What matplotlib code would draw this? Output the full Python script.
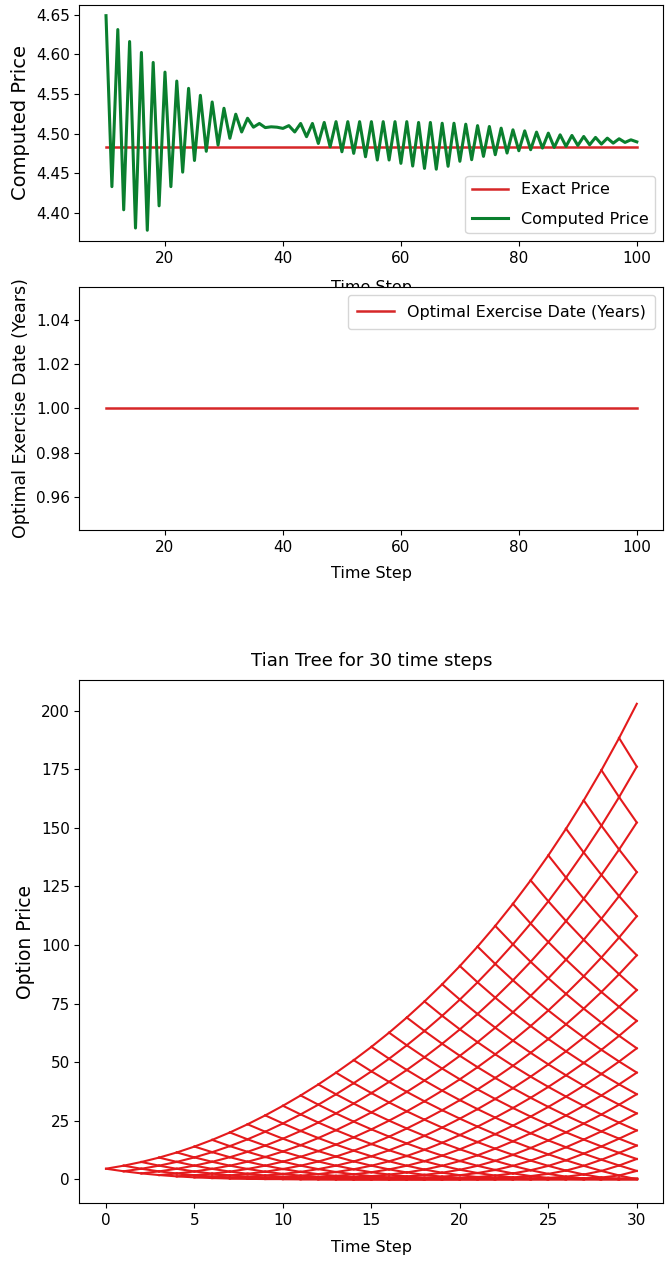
import matplotlib
matplotlib.use("Agg")
import matplotlib.pyplot as plt
import numpy as np

plt.rcParams['font.size'] = 11

# Convergence of the computed price with the number of tree steps
time_steps = np.arange(10, 101)
computed_price = [
    4.6487, 4.4330, 4.6312, 4.4038, 4.6161, 4.3808, 4.6023, 4.3780, 4.5897, 4.4088,
    4.5775, 4.4330, 4.5662, 4.4513, 4.5570, 4.4660, 4.5482, 4.4776, 4.5398, 4.4854,
    4.5319, 4.4940, 4.5244, 4.5020, 4.5193, 4.5080, 4.5127, 4.5075, 4.5085, 4.5080,
    4.5065, 4.5100, 4.5020, 4.5127, 4.4960, 4.5127, 4.4875, 4.5140, 4.4833, 4.5150,
    4.4770, 4.5150, 4.4750, 4.5150, 4.4707, 4.5150, 4.4666, 4.5150, 4.4666, 4.5150,
    4.4624, 4.5150, 4.4590, 4.5140, 4.4560, 4.5140, 4.4550, 4.5130, 4.4587, 4.5130,
    4.4650, 4.5118, 4.4670, 4.5100, 4.4712, 4.5089, 4.4733, 4.5068, 4.4754, 4.5047,
    4.4783, 4.5034, 4.4796, 4.5018, 4.4817, 4.5005, 4.4825, 4.4984, 4.4838, 4.4976,
    4.4850, 4.4963, 4.4858, 4.4951, 4.4867, 4.4942, 4.4879, 4.4934, 4.4888, 4.4921,
    4.4895,
]
exact_price = 4.4825
exercise_date = [1.00] * len(time_steps)

# Option and Tian tree inputs
tree_steps = 30
s0 = 36.34
strike = 36.83
sigma = 0.325
rate = 0.0
maturity = 1.0

# Tian tree: up/down factors and risk-neutral probability
dt = maturity / tree_steps
M = np.exp(rate * dt)
V = np.exp(sigma ** 2 * dt)
root = np.sqrt(V ** 2 + 2 * V - 3)
up = 0.5 * M * V * (V + 1 + root)
down = 0.5 * M * V * (V + 1 - root)
p = (M - down) / (up - down)

stock = [[s0 * up ** j * down ** (i - j) for j in range(i + 1)] for i in range(tree_steps + 1)]
value = [None] * (tree_steps + 1)
value[tree_steps] = [max(s - strike, 0.0) for s in stock[tree_steps]]
for i in range(tree_steps - 1, -1, -1):
    value[i] = [max((p * value[i + 1][j + 1] + (1 - p) * value[i + 1][j]) / M,
                    stock[i][j] - strike) for j in range(i + 1)]

fig = plt.figure(figsize=(6.65, 12.67), dpi=100)

# Computed vs exact price
ax1 = fig.add_axes([0.1195, 0.8098, 0.878, 0.1863])
ax1.plot(time_steps, [exact_price] * len(time_steps), color='#d62728', lw=1.8, label='Exact Price')
ax1.plot(time_steps, computed_price, color='#0a7f2e', lw=2.2, label='Computed Price')
ax1.set_xticks([20, 40, 60, 80, 100])
ax1.set_xlabel('Time Step', fontsize=11.5, labelpad=10)
ax1.set_ylabel('Computed Price', fontsize=14)
ax1.legend(loc='lower right', fontsize=11.5, labelspacing=0.9, handlelength=2.3)

# Optimal exercise date
ax2 = fig.add_axes([0.1195, 0.5817, 0.878, 0.1918])
ax2.plot(time_steps, exercise_date, color='#d62728', lw=1.8, label='Optimal Exercise Date (Years)')
ax2.set_xticks([20, 40, 60, 80, 100])
ax2.set_yticks([0.96, 0.98, 1.00, 1.02, 1.04])
ax2.set_xlabel('Time Step', fontsize=11.5, labelpad=8)
ax2.set_ylabel('Optimal Exercise Date (Years)', fontsize=12.5)
ax2.legend(loc='upper right', fontsize=11.5, borderpad=0.6, handlelength=2.3)

# Option value tree: every node linked to its up and down children
ax3 = fig.add_axes([0.1195, 0.0505, 0.878, 0.4128])
for i in range(tree_steps):
    for j in range(i + 1):
        ax3.plot([i, i + 1], [value[i][j], value[i + 1][j + 1]], color='#e41a1c', lw=1.5)
        ax3.plot([i, i + 1], [value[i][j], value[i + 1][j]], color='#e41a1c', lw=1.5)
ax3.set_xticks([0, 5, 10, 15, 20, 25, 30])
ax3.set_yticks([0, 25, 50, 75, 100, 125, 150, 175, 200])
ax3.set_title('Tian Tree for 30 time steps', fontsize=13, pad=10)
ax3.set_xlabel('Time Step', fontsize=11.5, labelpad=9)
ax3.set_ylabel('Option Price', fontsize=13.5)

fig.savefig('out.png', dpi=100)
